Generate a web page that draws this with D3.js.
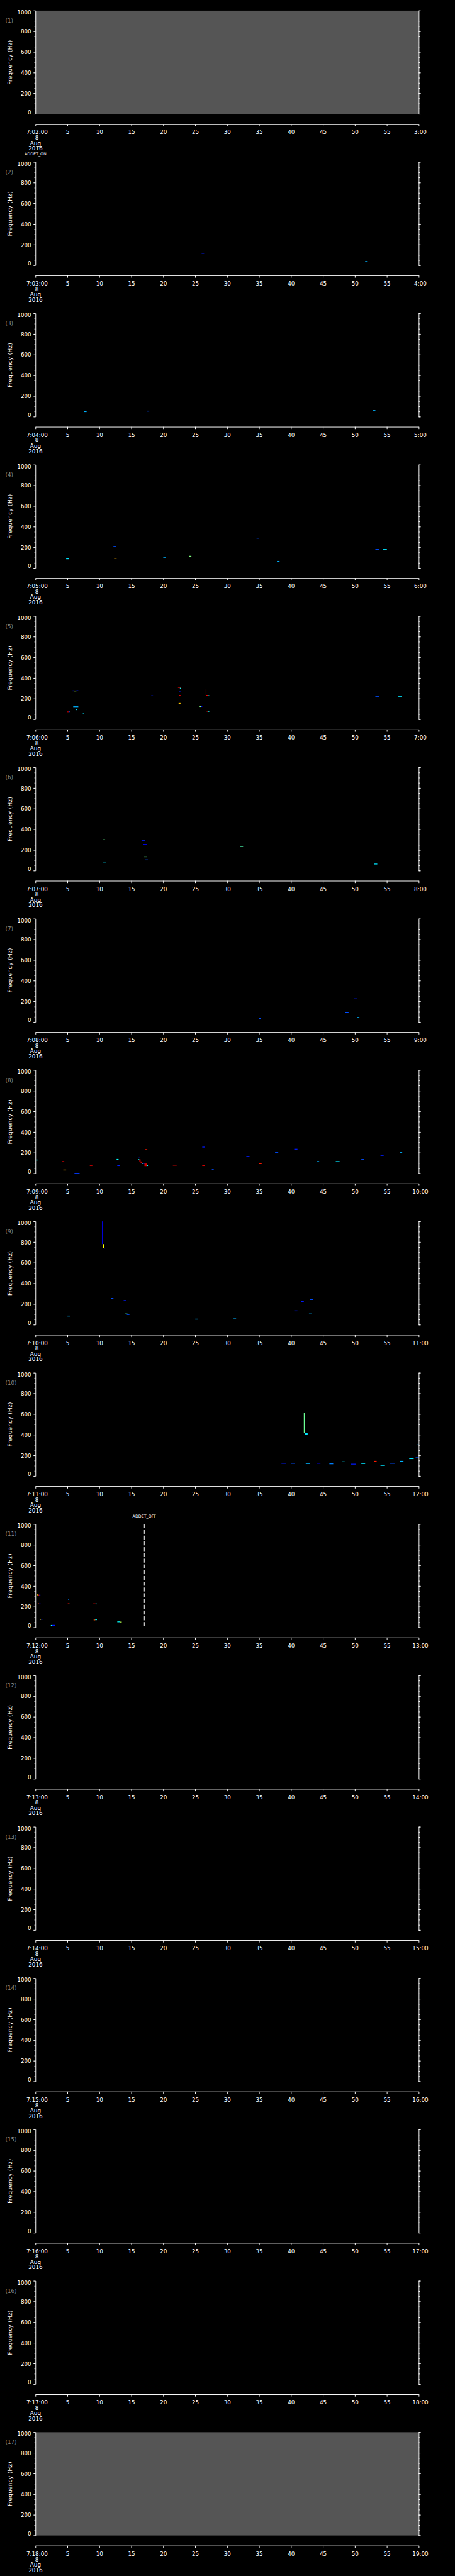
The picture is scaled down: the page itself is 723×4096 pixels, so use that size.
<!DOCTYPE html>
<html>
<head>
<meta charset="utf-8">
<script src="https://cdn.jsdelivr.net/npm/d3@7"></script>
<style>
  body { margin: 0; background: #000; }
  svg { display: block; }
</style>
</head>
<body>
<svg id="chart"></svg>
<script>
// time axis (seconds inside each minute) and frequency axis
const secTicks = d3.range(0, 61, 5);
const freqMajor = [0, 200, 400, 600, 800, 1000];
const freqMinor = d3.range(0, 1001, 50);

const startLabels = ["7:02:00", "7:03:00", "7:04:00", "7:05:00", "7:06:00", "7:07:00", "7:08:00", "7:09:00",
  "7:10:00", "7:11:00", "7:12:00", "7:13:00", "7:14:00", "7:15:00", "7:16:00", "7:17:00", "7:18:00"];
const endLabels = ["3:00", "4:00", "5:00", "6:00", "7:00", "8:00", "9:00", "10:00",
  "11:00", "12:00", "13:00", "14:00", "15:00", "16:00", "17:00", "18:00", "19:00"];

// panels with no data (drawn grey)
const greyPanels = [1, 17];

// spectrogram cells: [tStart s, tEnd s, fLow Hz, fHigh Hz, intensity 0..1]
const cells2 = [[26.0, 26.4, 112, 120, 0.15], [51.6, 51.9, 33, 40, 0.3]];
const cells3 = [[7.6, 8.0, 45, 53, 0.3], [17.4, 17.8, 50, 58, 0.2], [52.8, 53.2, 55, 63, 0.3]];
const cells4 = [[12.2, 12.6, 205, 213, 0.2], [4.8, 5.2, 85, 93, 0.35], [12.3, 12.7, 90, 98, 0.7],
  [20.0, 20.4, 95, 103, 0.3], [24.0, 24.4, 110, 118, 0.5], [34.6, 35.0, 285, 293, 0.2],
  [37.8, 38.2, 60, 68, 0.3], [53.2, 53.8, 175, 183, 0.2], [54.4, 55.0, 175, 183, 0.35]];
const cells5 = [[4.95, 5.2, 70, 77, 0.95], [5.2, 5.35, 72, 78, 0.2],
  [5.8, 6.0, 273, 280, 0.15], [6.0, 6.4, 272, 279, 0.55], [6.4, 6.7, 274, 281, 0.15],
  [5.9, 6.7, 119, 126, 0.3], [6.3, 6.5, 90, 97, 0.35], [7.4, 7.6, 50, 57, 0.35],
  [18.1, 18.4, 225, 232, 0.15], [22.3, 22.8, 307, 313, 0.9], [22.6, 22.8, 298, 305, 0.38],
  [22.5, 22.7, 263, 270, 0.15], [22.5, 22.7, 230, 236, 0.9], [22.4, 22.7, 152, 158, 0.68],
  [26.65, 26.75, 233, 290, 0.88], [26.7, 27.0, 230, 236, 0.88], [27.0, 27.2, 226, 233, 0.38],
  [25.7, 25.9, 122, 128, 0.5], [25.9, 26.1, 122, 128, 0.12], [26.8, 27.0, 75, 81, 0.95],
  [27.0, 27.2, 75, 81, 0.38], [53.2, 53.8, 215, 223, 0.2], [56.8, 57.3, 215, 223, 0.35]];
const cells6 = [[10.5, 10.9, 295, 303, 0.48], [10.6, 11.0, 80, 88, 0.35], [16.6, 17.2, 290, 298, 0.15],
  [16.8, 17.4, 250, 258, 0.1], [17.0, 17.4, 130, 138, 0.48], [17.2, 17.6, 100, 108, 0.2],
  [32.0, 32.5, 230, 238, 0.45], [53.0, 53.5, 60, 68, 0.35]];
const cells7 = [[49.8, 50.3, 220, 228, 0.15], [50.3, 50.7, 40, 48, 0.3], [48.5, 49.0, 90, 98, 0.2],
  [35.0, 35.3, 30, 38, 0.2]];
const cells8 = [[0.05, 0.4, 126, 133, 0.38], [4.2, 4.5, 112, 118, 0.9], [4.35, 4.8, 30, 36, 0.7],
  [6.1, 6.9, -2, 4, 0.18], [8.5, 8.9, 73, 79, 0.95], [12.7, 13.0, 133, 139, 0.38],
  [12.8, 13.2, 73, 79, 0.15], [16.1, 16.4, 157, 163, 0.15], [16.1, 16.25, 130, 137, 0.38],
  [16.25, 16.45, 115, 135, 0.92], [16.45, 16.7, 98, 115, 0.92], [16.6, 17.2, 94, 100, 0.15],
  [16.75, 16.85, 92, 98, 0.5], [17.05, 17.4, 70, 95, 0.92], [17.4, 17.6, 73, 79, 0.38],
  [17.2, 17.5, 228, 234, 0.85], [21.5, 22.1, 76, 82, 0.95], [26.1, 26.5, 252, 258, 0.15],
  [26.1, 26.5, 73, 79, 0.92], [27.6, 27.9, 34, 40, 0.2],
  [33.0, 33.5, 160, 168, 0.15], [35.0, 35.4, 90, 98, 0.85], [37.5, 38.0, 200, 208, 0.2],
  [40.5, 41.0, 230, 238, 0.15], [44.0, 44.4, 110, 118, 0.3], [47.0, 47.6, 110, 118, 0.35],
  [51.0, 51.4, 130, 138, 0.2], [54.0, 54.5, 170, 178, 0.15], [57.0, 57.4, 200, 208, 0.3]];
const cells9 = [[10.4, 10.5, 780, 1000, 0.08], [10.5, 10.7, 745, 780, 0.62], [10.7, 10.9, 738, 745, 0.15],
  [11.8, 12.2, 250, 258, 0.2], [13.8, 14.2, 230, 238, 0.15], [14.0, 14.4, 110, 118, 0.45],
  [14.3, 14.7, 95, 103, 0.2], [5.0, 5.4, 80, 88, 0.3], [40.5, 41.0, 130, 138, 0.15],
  [41.6, 42.0, 220, 228, 0.15], [43.0, 43.4, 240, 248, 0.2], [42.8, 43.2, 110, 118, 0.3],
  [31.0, 31.4, 60, 68, 0.3], [25.0, 25.4, 50, 58, 0.3]];
const cells10 = [[42.0, 42.2, 420, 610, 0.48], [42.2, 42.6, 400, 420, 0.35], [38.5, 39.2, 120, 127, 0.15],
  [40.0, 40.6, 120, 127, 0.2], [42.3, 43.0, 118, 125, 0.3], [44.0, 44.6, 120, 127, 0.1],
  [46.0, 46.6, 115, 122, 0.25], [48.0, 48.4, 135, 142, 0.35], [49.4, 50.2, 112, 119, 0.15],
  [51.0, 51.6, 118, 125, 0.35], [53.0, 53.4, 140, 147, 0.85], [54.0, 54.6, 100, 107, 0.35],
  [55.5, 56.2, 120, 127, 0.2], [57.0, 57.6, 140, 147, 0.3], [58.5, 59.2, 165, 172, 0.35],
  [59.5, 60.0, 180, 187, 0.2], [59.8, 60.0, 300, 307, 0.3]];
const cells11 = [[0.2, 0.45, 312, 319, 0.65], [0.45, 0.6, 311, 317, 0.9], [0.6, 0.76, 311, 317, 0.15],
  [0.35, 0.55, 226, 232, 0.8], [0.55, 0.8, 224, 231, 0.12], [0.7, 0.85, 75, 82, 0.65],
  [0.85, 1.1, 77, 83, 0.15], [2.4, 2.6, 16, 23, 0.38], [2.6, 3.1, 18, 24, 0.15],
  [5.1, 5.25, 269, 275, 0.25], [5.05, 5.2, 227, 233, 0.9], [5.2, 5.3, 227, 233, 0.5],
  [9.0, 9.4, 226, 232, 0.95], [9.4, 9.6, 224, 231, 0.38], [9.1, 9.35, 70, 76, 0.8],
  [9.35, 9.6, 72, 78, 0.38], [12.8, 13.2, 52, 58, 0.38], [13.2, 13.5, 49, 56, 0.55]];

const panelCells = [[], cells2, cells3, cells4, cells5, cells6, cells7, cells8, cells9, cells10, cells11,
  [], [], [], [], [], []];

// ADDET off marker in panel 11 (seconds)
const addetOffSec = 17.03;

const scale = 0.705;
const left = 80, right = 944, plotH = 233, pitch = 341.35, top0 = 24;
const font = "DejaVu Sans";

const svg = d3.select("#chart").attr("width", 723).attr("height", 4096);
svg.append("rect").attr("width", 723).attr("height", 4096).attr("fill", "#000");
const root = svg.append("g").attr("transform", `scale(${scale})`);

const x = d3.scaleLinear().domain([0, 60]).range([left, right]);
const jet = d3.scaleLinear()
  .domain([0, 0.125, 0.375, 0.5, 0.625, 0.875, 1])
  .range(["#00008f", "#0000ff", "#00ffff", "#80ff80", "#ffff00", "#ff0000", "#800000"]);

function styleAxis(g) {
  g.selectAll("path, line").attr("stroke", "#fff").attr("stroke-width", 1.4);
  g.selectAll("text").attr("fill", "#fff").attr("font-family", font).attr("font-size", 12.5);
}

startLabels.forEach((startLabel, i) => {
  const T = top0 + i * pitch;
  const y = d3.scaleLinear().domain([0, 1000]).range([T + plotH, T]);
  const g = root.append("g");

  if (greyPanels.includes(i + 1)) {
    g.append("rect").attr("x", left).attr("y", T).attr("width", right - left).attr("height", plotH)
      .attr("fill", "#555555");
  }

  // spectrogram cells
  g.selectAll("rect.cell").data(panelCells[i]).enter().append("rect")
    .attr("class", "cell")
    .attr("x", d => x(d[0]))
    .attr("y", d => y(d[3]))
    .attr("width", d => Math.max(x(d[1]) - x(d[0]), 1.5))
    .attr("height", d => Math.max(y(d[2]) - y(d[3]), 1.8))
    .attr("fill", d => jet(d[4]));

  // left axis: minor then major ticks with labels
  g.append("g").attr("transform", `translate(${left},0)`)
    .call(d3.axisLeft(y).tickValues(freqMinor).tickSize(2.5).tickSizeOuter(0).tickFormat(""))
    .call(styleAxis);
  g.append("g").attr("transform", `translate(${left},0)`)
    .call(d3.axisLeft(y).tickValues(freqMajor).tickSize(4.5).tickSizeOuter(0).tickPadding(5)
      .tickFormat(d3.format("d")))
    .call(styleAxis)
    .call(a => a.select(".domain").remove())
    .call(a => a.selectAll("text").attr("dy", d => d === 1000 ? "0.64em" : d === 0 ? "0em" : "0.36em"));

  // right axis, no labels
  g.append("g").attr("transform", `translate(${right},0)`)
    .call(d3.axisRight(y).tickValues(freqMinor).tickSize(2.5).tickSizeOuter(0).tickFormat(""))
    .call(styleAxis);
  g.append("g").attr("transform", `translate(${right},0)`)
    .call(d3.axisRight(y).tickValues(freqMajor).tickSize(4.5).tickSizeOuter(0).tickFormat(""))
    .call(styleAxis)
    .call(a => a.select(".domain").remove());

  // time axis below the plot
  g.append("g").attr("transform", `translate(0,${T + 256})`)
    .call(d3.axisBottom(x).tickValues(secTicks).tickSize(5).tickSizeOuter(0).tickPadding(8.8)
      .tickFormat(d => d === 0 ? startLabel : d === 60 ? endLabels[i] : d))
    .call(styleAxis)
    .call(a => a.selectAll("text").attr("dx", d => (d === 0 || d === 60) ? 3 : 0));

  const dateLines = [["8", 291, 3], ["Aug", 303, 0], ["2016", 315.3, 0]];
  dateLines.forEach(([txt, dy, dx]) => {
    g.append("text").attr("x", left + dx).attr("y", T + dy).attr("text-anchor", "middle")
      .attr("fill", "#fff").attr("font-family", font).attr("font-size", 12.5).text(txt);
  });

  // panel number
  g.append("text").attr("x", 12).attr("y", T + 27).attr("fill", "#8c8c8c")
    .attr("font-family", font).attr("font-size", 12.5).text(`(${i + 1})`);

  // y axis title
  g.append("text").attr("transform", `translate(27.5,${T + plotH / 2}) rotate(-90)`)
    .attr("text-anchor", "middle").attr("fill", "#fff").attr("font-family", font)
    .attr("font-size", 12.5).attr("letter-spacing", 0.5).text("Frequency (Hz)");

  if (i === 0) {
    g.append("text").attr("x", left).attr("y", T + 326.7).attr("text-anchor", "middle")
      .attr("fill", "#fff").attr("font-family", font).attr("font-size", 9).text("ADDET_ON");
  }
  if (i === 10) {
    g.append("line").attr("x1", x(addetOffSec)).attr("x2", x(addetOffSec))
      .attr("y1", T).attr("y2", T + plotH)
      .attr("stroke", "#fff").attr("stroke-width", 1.4).attr("stroke-dasharray", "9,4");
    g.append("text").attr("x", x(addetOffSec)).attr("y", T - 14.5).attr("text-anchor", "middle")
      .attr("fill", "#fff").attr("font-family", font).attr("font-size", 9).text("ADDET_OFF");
  }
});
</script>
</body>
</html>
